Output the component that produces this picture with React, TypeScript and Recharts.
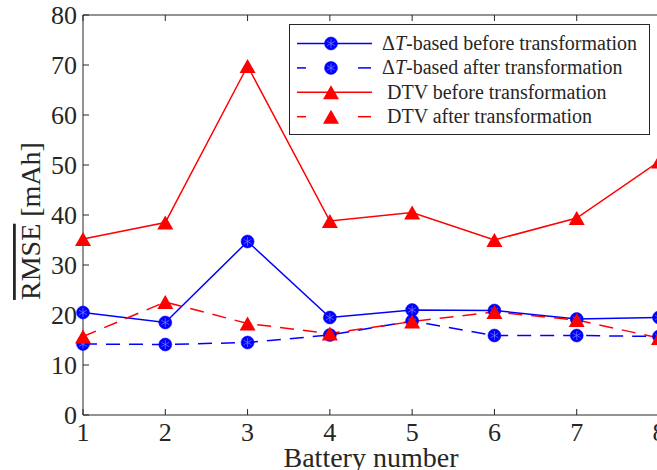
import React from 'react';
import { LineChart, Line, XAxis, YAxis, Legend } from 'recharts';

// battery index on the x axis
const batteries = [1, 2, 3, 4, 5, 6, 7, 8];

// mean RMSE per battery [mAh]
const dtBefore = [20.5, 18.5, 34.7, 19.5, 21.0, 20.9, 19.2, 19.5];
const dtAfter = [14.2, 14.1, 14.5, 16.0, 18.8, 15.9, 15.9, 15.7];
const dtvBefore = [35.2, 38.5, 69.8, 38.8, 40.5, 35.0, 39.4, 50.7];
const dtvAfter = [15.7, 22.6, 18.3, 16.3, 18.7, 20.6, 19.0, 15.4];

const yTicks = [0, 10, 20, 30, 40, 50, 60, 70, 80];

const rows = batteries.map((b, i) => ({
  battery: b,
  dtBefore: dtBefore[i],
  dtAfter: dtAfter[i],
  dtvBefore: dtvBefore[i],
  dtvAfter: dtvAfter[i],
}));

const FONT = '"Liberation Serif", "Times New Roman", serif';
const INK = '#262626';
const BLUE = '#0000ff';
const RED = '#ff0000';

type Marker = 'circle' | 'triangle';

const series: { key: string; name: string; color: string; dashed: boolean; marker: Marker }[] = [
  { key: 'dtBefore', name: 'ΔT-based before transformation', color: BLUE, dashed: false, marker: 'circle' },
  { key: 'dtAfter', name: 'ΔT-based after transformation', color: BLUE, dashed: true, marker: 'circle' },
  { key: 'dtvBefore', name: 'DTV before transformation', color: RED, dashed: false, marker: 'triangle' },
  { key: 'dtvAfter', name: 'DTV after transformation', color: RED, dashed: true, marker: 'triangle' },
];

const Circle = ({ cx, cy, color }: { cx: number; cy: number; color: string }) => {
  const r = 4.5;
  const d = r * 0.866;
  return (
    <g>
      <circle cx={cx} cy={cy} r={6.5} fill={color} stroke={color} strokeWidth={0.5} />
      <path
        d={`M${cx},${cy - r}L${cx},${cy + r}M${cx - d},${cy - r / 2}L${cx + d},${cy + r / 2}M${cx - d},${cy + r / 2}L${cx + d},${cy - r / 2}`}
        stroke="#7f7fff"
        strokeWidth={0.7}
      />
    </g>
  );
};

const Triangle = ({ cx, cy, color }: { cx: number; cy: number; color: string }) => (
  <polygon points={`${cx},${cy - 7} ${cx - 8},${cy + 7} ${cx + 8},${cy + 7}`} fill={color} />
);

const makeDot = (marker: Marker, color: string, key: string) => (props: any) => {
  const { cx, cy, index } = props;
  if (cx == null || cy == null) return <g key={`${key}-${index}`} />;
  return marker === 'circle' ? (
    <Circle key={`${key}-${index}`} cx={cx} cy={cy} color={color} />
  ) : (
    <Triangle key={`${key}-${index}`} cx={cx} cy={cy} color={color} />
  );
};

const renderName = (name: string) => {
  if (name.startsWith('ΔT')) {
    return (
      <>
        <tspan>Δ</tspan>
        <tspan fontStyle="italic">T</tspan>
        <tspan>{name.slice(2)}</tspan>
      </>
    );
  }
  return name;
};

// legend rows follow the series order, whatever order the payload comes in
const LegendBox = ({ payload }: any) => {
  const keys = (payload || []).map((p: any) => p.dataKey);
  const items = series.filter((s) => keys.includes(s.key));
  return (
    <svg width={362} height={112} style={{ display: 'block' }}>
      <rect x={0.5} y={0.5} width={360} height={110} fill="#fff" stroke={INK} strokeWidth={1} />
      {items.map((s, i) => {
        const cy = 19.5 + i * 24.4;
        return (
          <g key={s.key}>
            {s.dashed ? (
              <>
                <line x1={8} y1={cy} x2={17} y2={cy} stroke={s.color} strokeWidth={1.5} />
                <line x1={69} y1={cy} x2={82} y2={cy} stroke={s.color} strokeWidth={1.5} />
              </>
            ) : (
              <line x1={8} y1={cy} x2={83} y2={cy} stroke={s.color} strokeWidth={1.5} />
            )}
            {s.marker === 'circle' ? (
              <Circle cx={42} cy={cy} color={s.color} />
            ) : (
              <Triangle cx={42} cy={cy} color={s.color} />
            )}
            <text
              x={s.marker === 'circle' ? 93 : 98}
              y={cy + 6.5}
              fontFamily={FONT}
              fontSize={20}
              fill={INK}
            >
              {renderName(s.name)}
            </text>
          </g>
        );
      })}
    </svg>
  );
};

const YTitle = ({ viewBox }: any) => {
  const { x, y, height } = viewBox;
  const tx = x + 40;
  const ty = y + height / 2 + 6;
  return (
    <text
      transform={`translate(${tx},${ty}) rotate(-90)`}
      textAnchor="middle"
      fontFamily={FONT}
      fontSize={28}
      fill={INK}
    >
      <tspan textDecoration="overline">RMSE</tspan> [mAh]
    </text>
  );
};

const XTitle = ({ viewBox }: any) => {
  const { x, y, width } = viewBox;
  return (
    <text x={x + width / 2} y={y + 52} textAnchor="middle" fontFamily={FONT} fontSize={28} fill={INK}>
      Battery number
    </text>
  );
};

const tickStyle = { fontFamily: FONT, fontSize: 26, fill: INK };
const blank = () => '';

export default function App() {
  return (
    <div
      style={{
        position: 'absolute',
        left: 0,
        top: 0,
        width: 657,
        height: 470,
        overflow: 'hidden',
        background: '#fff',
      }}
    >
      <LineChart width={682} height={470} data={rows} margin={{ top: 0, right: 0, bottom: 0, left: 0 }}>
        <XAxis
          xAxisId="bottom"
          dataKey="battery"
          type="number"
          domain={[1, 8]}
          ticks={batteries}
          height={55}
          stroke={INK}
          tickSize={-6}
          tickMargin={14}
          tick={tickStyle}
          label={<XTitle />}
        />
        <XAxis
          xAxisId="top"
          orientation="top"
          dataKey="battery"
          type="number"
          domain={[1, 8]}
          ticks={batteries}
          height={15}
          stroke={INK}
          tickSize={-6}
          tickFormatter={blank}
        />
        <YAxis
          yAxisId="left"
          domain={[0, 80]}
          ticks={yTicks}
          width={83}
          stroke={INK}
          tickSize={-6}
          tickMargin={12}
          tick={tickStyle}
          label={<YTitle />}
        />
        <YAxis
          yAxisId="right"
          orientation="right"
          domain={[0, 80]}
          ticks={yTicks}
          width={23}
          stroke={INK}
          tickSize={-6}
          tickFormatter={blank}
        />
        {series.map((s) => (
          <Line
            key={s.key}
            xAxisId="bottom"
            yAxisId="left"
            type="linear"
            dataKey={s.key}
            name={s.name}
            stroke={s.color}
            strokeWidth={1.5}
            strokeDasharray={s.dashed ? '14 9' : undefined}
            dot={makeDot(s.marker, s.color, s.key)}
            activeDot={false}
            isAnimationActive={false}
          />
        ))}
        <Legend
          layout="horizontal"
          align="center"
          verticalAlign="middle"
          content={<LegendBox />}
          wrapperStyle={{ left: 289, top: 24, width: 362, height: 112 }}
        />
      </LineChart>
    </div>
  );
}
